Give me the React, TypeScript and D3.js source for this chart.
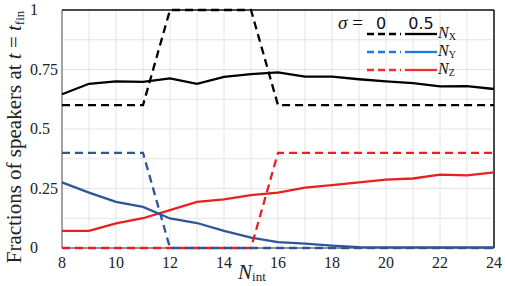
import React from "react";
import * as d3 from "d3";

const nInt = [8, 9, 10, 11, 12, 13, 14, 15, 16, 17, 18, 19, 20, 21, 22, 23, 24];
const xSigma0 = [0.6, 0.6, 0.6, 0.6, 1, 1, 1, 1, 0.6, 0.6, 0.6, 0.6, 0.6, 0.6, 0.6, 0.6, 0.6];
const ySigma0 = [0.4, 0.4, 0.4, 0.4, 0, 0, 0, 0, 0, 0, 0, 0, 0, 0, 0, 0, 0];
const zSigma0 = [0, 0, 0, 0, 0, 0, 0, 0, 0.4, 0.4, 0.4, 0.4, 0.4, 0.4, 0.4, 0.4, 0.4];
const xSigma05 = [0.646, 0.69, 0.7, 0.698, 0.713, 0.69, 0.719, 0.731, 0.738, 0.72, 0.72, 0.709, 0.7, 0.693, 0.679, 0.68, 0.668];
const ySigma05 = [0.276, 0.233, 0.194, 0.173, 0.124, 0.105, 0.072, 0.044, 0.025, 0.018, 0.01, 0.004, 0.003, 0.003, 0.002, 0.003, 0.002];
const zSigma05 = [0.072, 0.072, 0.103, 0.125, 0.159, 0.194, 0.204, 0.222, 0.233, 0.254, 0.264, 0.276, 0.287, 0.292, 0.308, 0.305, 0.318];
const xTicks = [8, 10, 12, 14, 16, 18, 20, 22, 24];
const yTicks = [0, 0.25, 0.5, 0.75, 1];
const yTickLabels = ["0", "0.25", "0.5", "0.75", "1"];

const W = 505, H = 286;
const left = 62, right = 494, top = 10, bottom = 248;

export default function App() {
  const x = d3.scaleLinear().domain([8, 24]).range([left, right]);
  const y = d3.scaleLinear().domain([0, 1]).range([bottom, top]);
  const line = (vals: number[]) =>
    d3.line<number>().x((_, i) => x(nInt[i])).y((v) => y(v))(vals) || "";

  const dark = "#000";
  const blue = "#2f5597";
  const red = "#e8201f";
  const legBlue = "#1f78e0";
  const legRed = "#f03030";
  const serif = "'Liberation Serif', 'DejaVu Serif', serif";
  const sans = "'DejaVu Sans', 'Liberation Sans', sans-serif";
  const dash = "8,5";
  const sw = 2.3;

  const vGrid = d3.range(8, 25);
  const hGrid = d3.range(0, 1.0001, 0.125);

  const legendRows = [
    { label: "X", c: dark, y: 34 },
    { label: "Y", c: legBlue, y: 52 },
    { label: "Z", c: legRed, y: 70 },
  ];

  return (
    <svg width={W} height={H} style={{ position: "absolute", left: 0, top: 0, background: "#fff" }}>
      {vGrid.map((v) => (
        <line key={"v" + v} x1={x(v)} x2={x(v)} y1={top} y2={bottom} stroke="#e4e4e4" strokeWidth={1} />
      ))}
      {hGrid.map((v) => (
        <line key={"h" + v} x1={left} x2={right} y1={y(v)} y2={y(v)} stroke="#e4e4e4" strokeWidth={1} />
      ))}
      {/* frame */}
      <line x1={left} x2={left} y1={top} y2={bottom} stroke="#888" strokeWidth={1.5} />
      <line x1={left} x2={right} y1={top} y2={top} stroke="#111" strokeWidth={1.5} />
      <line x1={right} x2={right} y1={top} y2={bottom} stroke="#111" strokeWidth={1.5} />
      <line x1={left} x2={right} y1={bottom} y2={bottom} stroke="#333" strokeWidth={1.2} />

      {/* series */}
      <path d={line(xSigma05)} fill="none" stroke={dark} strokeWidth={sw} />
      <path d={line(zSigma05)} fill="none" stroke={red} strokeWidth={sw} />
      <path d={line(ySigma05)} fill="none" stroke={blue} strokeWidth={sw} />
      <path d={line(xSigma0)} fill="none" stroke={dark} strokeWidth={sw} strokeDasharray={dash} />
      <path d={line(zSigma0)} fill="none" stroke={red} strokeWidth={sw} strokeDasharray={dash} />
      <path d={line(ySigma0)} fill="none" stroke={blue} strokeWidth={sw} strokeDasharray={dash} />

      {/* y ticks */}
      {yTicks.map((v, i) => (
        <text key={"yt" + v} x={30} y={y(v) + 5} fontFamily={serif} fontSize={16} fill="#222">
          {yTickLabels[i]}
        </text>
      ))}
      {/* x ticks */}
      {xTicks.map((v) => (
        <text key={"xt" + v} x={x(v)} y={268} textAnchor="middle" fontFamily={serif} fontSize={16} fill="#222">
          {v}
        </text>
      ))}
      {/* x label */}
      <text x={238} y={279} fontFamily={serif} fontSize={21} fill="#222">
        <tspan fontStyle="italic">N</tspan>
        <tspan fontSize={13} dy={2}>int</tspan>
      </text>
      {/* y label */}
      <text transform={`translate(21,${137}) rotate(-90)`} textAnchor="middle" fontFamily={serif} fontSize={21} fill="#222">
        Fractions of speakers at <tspan fontStyle="italic">t</tspan> = <tspan fontStyle="italic">t</tspan>
        <tspan fontSize={13} dy={3}>fin</tspan>
      </text>

      {/* legend */}
      <text x={338} y={29} fontFamily={serif} fontSize={19} fill="#111">
        <tspan fontStyle="italic">σ</tspan> =
      </text>
      <text x={381} y={29} fontFamily={sans} fontSize={16} textAnchor="middle" fill="#111">0</text>
      <text x={421} y={29} fontFamily={sans} fontSize={16} textAnchor="middle" fill="#111">0.5</text>
      {legendRows.map((r) => (
        <g key={r.label}>
          <line x1={367} x2={401} y1={r.y} y2={r.y} stroke={r.c} strokeWidth={sw} strokeDasharray="7,4" />
          <line x1={405} x2={437} y1={r.y} y2={r.y} stroke={r.c} strokeWidth={sw} />
          <text x={438} y={r.y + 4} fontFamily={serif} fontSize={16} fill="#111">
            <tspan fontStyle="italic">N</tspan>
            <tspan fontSize={10} dy={2}>{r.label}</tspan>
          </text>
        </g>
      ))}
    </svg>
  );
}
